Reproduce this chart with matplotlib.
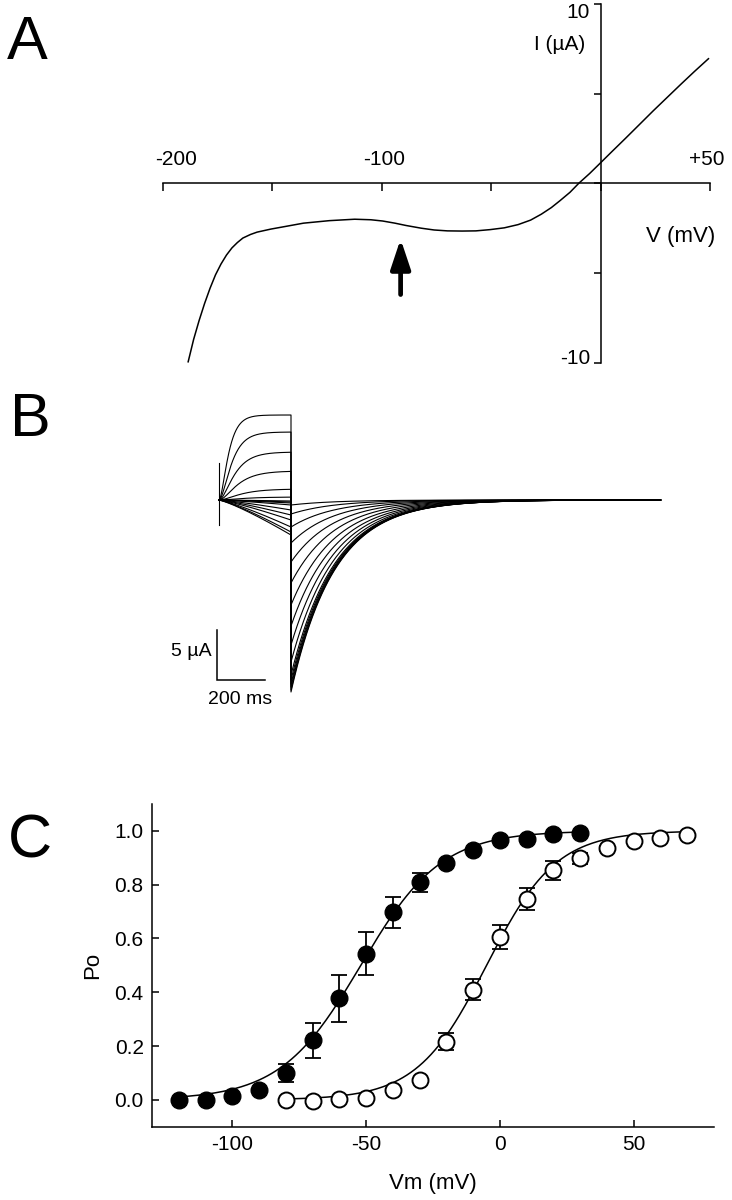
import numpy as np
import matplotlib.pyplot as plt

plt.rcParams['font.family'] = ['Liberation Sans', 'DejaVu Sans']
plt.rcParams['axes.unicode_minus'] = False

W, H = 732, 1200


def fx(x):
    return x / W


def fy(y):
    return 1 - y / H


# ---------------- data ----------------
# panel A: I-V curve (mV, uA)
iv_v = [-188.5, -186, -183.5, -181, -178.5, -176, -173.5, -171, -168.5, -166, -163.5,
        -160, -157, -150.7, -143, -135.8, -124, -112.4, -105, -99.6, -94, -88.9, -82,
        -76.1, -70, -63.3, -57, -50.5, -44, -37.7, -32, -27.1, -22.5, -18.6, -14, -10,
        -5, -0.4, 5, 11.3, 17.5, 24.1, 30.5, 36.9, 43, 49.3]
iv_i = [-9.95, -8.7, -7.65, -6.7, -5.85, -5.1, -4.5, -4.0, -3.6, -3.3, -3.05,
        -2.85, -2.72, -2.55, -2.38, -2.22, -2.08, -2.0, -2.03, -2.1, -2.22, -2.35, -2.5,
        -2.6, -2.65, -2.66, -2.65, -2.58, -2.48, -2.3, -2.05, -1.72, -1.35, -0.97, -0.5, 0.0,
        0.55, 1.1, 1.75, 2.5, 3.25, 4.05, 4.8, 5.55, 6.25, 6.95]
arrow_v = -91.4
arrow_i = (-6.2, -3.1)

# panel B: current traces (uA), step 0-300 ms, tails to 1840 ms
step_len = 300
trace_end = 1840
out_ss = [8.5, 6.8, 4.8, 2.9, 1.1, 0.3]
out_tau = [30, 40, 50, 60, 70, 80]
out_tail = [-19.2, -19.0, -18.7, -18.4, -18.0, -17.5]
in_ss = [-0.1, -0.2, -0.3, -0.5, -1.0, -1.5, -2.0, -2.7, -3.2, -3.5]
in_tail = [-0.5, -1.4, -2.7, -4.3, -6.2, -8.3, -10.5, -12.6, -14.5, -16.2]
tail_tau = 180
artifact = (3.7, -2.5)

# panel C: open probability
filled_v = [-120, -110, -100, -90, -80, -70, -60, -50, -40, -30, -20, -10, 0, 10, 20, 30]
filled_po = [0.0, 0.0, 0.014, 0.037, 0.10, 0.222, 0.377, 0.543, 0.697, 0.809,
             0.88, 0.928, 0.965, 0.971, 0.99, 0.994]
filled_err = [0, 0, 0, 0, 0.034, 0.065, 0.087, 0.08, 0.059, 0.035, 0, 0, 0, 0, 0, 0]
open_v = [-80, -70, -60, -50, -40, -30, -20, -10, 0, 10, 20, 30, 40, 50, 60, 70]
open_po = [0.0, -0.006, 0.002, 0.006, 0.035, 0.075, 0.216, 0.41, 0.606, 0.747,
           0.853, 0.898, 0.935, 0.961, 0.975, 0.984]
open_err = [0, 0, 0, 0, 0, 0, 0.031, 0.04, 0.045, 0.04, 0.034, 0.02, 0.01, 0, 0, 0]
filled_fit = (-52, 15)   # V1/2, slope
open_fit = (-5, 13)

fig = plt.figure(figsize=(W / 100, H / 100), dpi=100)

# ---------------- panel A ----------------
axA = fig.add_axes([fx(163), fy(362.7), (710 - 163) / W, (362.7 - 4) / H])
axA.set_xlim(-200, 50)
axA.set_ylim(-10, 10)
for s in ['top', 'right']:
    axA.spines[s].set_visible(False)
axA.spines['left'].set_position(('data', 0))
axA.spines['bottom'].set_position(('data', 0))
for s in ['left', 'bottom']:
    axA.spines[s].set_linewidth(1.1)
axA.set_xticks([-200, -150, -100, -50, 0, 50])
axA.set_yticks([-10, -5, 0, 5, 10])
axA.tick_params(axis='x', direction='out', length=6, width=1.1, labelbottom=False)
axA.tick_params(axis='y', direction='out', length=5, width=1.1, labelleft=False)
axA.plot(iv_v, iv_i, color='k', lw=1.1, clip_on=False, solid_joinstyle='round')
axA.annotate('', xy=(arrow_v, arrow_i[1]), xytext=(arrow_v, arrow_i[0]),
             arrowprops=dict(arrowstyle='-|>,head_length=0.6,head_width=0.2',
                             mutation_scale=30, lw=3.4, color='k',
                             shrinkA=0, shrinkB=0))
for lab, v in [('-200', -194), ('-100', -99), ('+50', 48.7)]:
    axA.text(v, 1.0, lab, ha='center', va='baseline', fontsize=15)
fig.text(fx(7), fy(59), 'A', fontsize=44, va='baseline')
fig.text(fx(590), fy(18), '10', fontsize=15, ha='right', va='baseline')
fig.text(fx(590), fy(364), '-10', fontsize=15, ha='right', va='baseline')
fig.text(fx(585), fy(50), 'I (µA)', fontsize=15, ha='right', va='baseline')
fig.text(fx(715), fy(242), 'V (mV)', fontsize=16, ha='right', va='baseline')

# ---------------- panel B ----------------
px_ms = 0.24
axB = fig.add_axes([fx(150), fy(720), 550 / W, 330 / H])
axB.set_xlim((150 - 219) / px_ms, (700 - 219) / px_ms)
axB.set_ylim(-22, 11)
axB.axis('off')

t_step = np.linspace(0, step_len, 200)
t_tail = np.linspace(step_len, trace_end, 600)
for ss, tau, tail in zip(out_ss, out_tau, out_tail):
    i_step = ss * (1 - np.exp(-t_step / tau)) ** 2
    i_tail = tail * np.exp(-(t_tail - step_len) / tail_tau)
    axB.plot(np.r_[t_step, t_tail], np.r_[i_step, i_tail], color='k', lw=0.8)
for ss, tail in zip(in_ss, in_tail):
    i_step = ss * (t_step / step_len) ** 1.2
    i_tail = tail * np.exp(-(t_tail - step_len) / tail_tau)
    axB.plot(np.r_[t_step, t_tail], np.r_[i_step, i_tail], color='k', lw=0.8)
axB.plot([0, 0], artifact, color='k', lw=0.8)

# scale bar 200 ms / 5 uA
sb_t, sb_i = -8, -18
axB.plot([sb_t, sb_t, sb_t + 200], [sb_i + 5, sb_i, sb_i], color='k', lw=1.1,
         solid_joinstyle='miter')
fig.text(fx(10), fy(436), 'B', fontsize=44, va='baseline')
fig.text(fx(212), fy(656), '5 µA', fontsize=14, ha='right', va='baseline')
fig.text(fx(240), fy(704), '200 ms', fontsize=14, ha='center', va='baseline')

# ---------------- panel C ----------------
axC = fig.add_axes([fx(152), fy(1126.7), (714 - 152) / W, (1126.7 - 804) / H])
axC.set_xlim(-130, 80)
axC.set_ylim(-0.1, 1.1)
for s in ['top', 'right']:
    axC.spines[s].set_visible(False)
for s in ['left', 'bottom']:
    axC.spines[s].set_linewidth(1.1)
axC.set_xticks([-100, -50, 0, 50])
axC.set_yticks([0, 0.2, 0.4, 0.6, 0.8, 1.0])
axC.set_yticklabels(['0.0', '0.2', '0.4', '0.6', '0.8', '1.0'])
axC.tick_params(direction='in', length=5, width=1.1, labelsize=15, pad=6)

vf = np.linspace(filled_v[0], filled_v[-1], 200)
axC.plot(vf, 1 / (1 + np.exp(-(vf - filled_fit[0]) / filled_fit[1])), color='k', lw=1.1)
vo = np.linspace(open_v[0], open_v[-1], 200)
axC.plot(vo, 1 / (1 + np.exp(-(vo - open_fit[0]) / open_fit[1])), color='k', lw=1.1)

axC.errorbar(filled_v, filled_po, yerr=filled_err, fmt='none', ecolor='k',
             elinewidth=1.3, capsize=5.5, capthick=1.3, zorder=2)
axC.errorbar(open_v, open_po, yerr=open_err, fmt='none', ecolor='k',
             elinewidth=1.3, capsize=5.5, capthick=1.3, zorder=2)
axC.plot(filled_v, filled_po, 'o', ms=12, mfc='k', mec='k', zorder=3)
axC.plot(open_v, open_po, 'o', ms=11.5, mfc='white', mec='k', mew=1.4, zorder=3)

axC.set_xlabel('Vm (mV)', fontsize=16, labelpad=14)
axC.set_ylabel('Po', fontsize=16, labelpad=8)
fig.text(fx(8), fy(857), 'C', fontsize=44, va='baseline')

fig.savefig('out.png', dpi=100)
